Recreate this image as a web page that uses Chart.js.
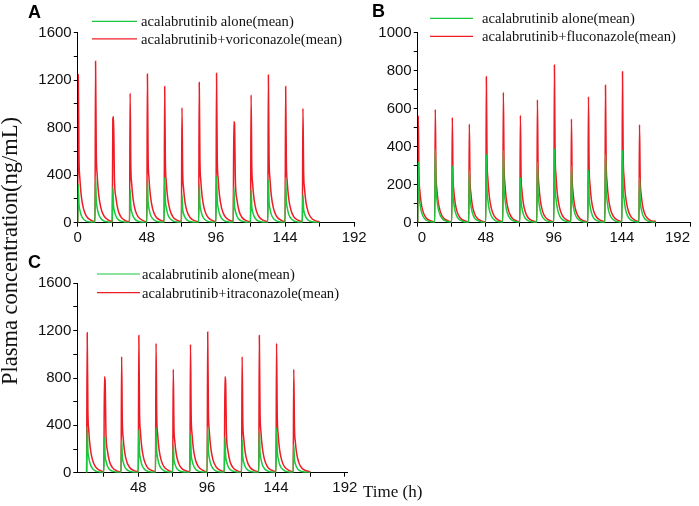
<!DOCTYPE html>
<html>
<head>
<meta charset="utf-8">
<script src="https://cdn.jsdelivr.net/npm/chart.js@4.4.1/dist/chart.umd.min.js"></script>
<style>
  html, body { margin: 0; padding: 0; background: #fff; overflow: hidden; }
  #page { position: relative; width: 699px; height: 506px; }
  canvas { position: absolute; left: 0; top: 0; }
  .panel { position: absolute; font: bold 18px "Liberation Sans", Arial, sans-serif; line-height: 1; color: #000; }
  .title { position: absolute; font-family: "Liberation Serif", "Times New Roman", serif; color: #111; white-space: nowrap; line-height: 1; }
</style>
</head>
<body>
<div id="page">
  <canvas id="chartA" width="699" height="506"></canvas>
  <canvas id="chartB" width="699" height="506"></canvas>
  <canvas id="chartC" width="699" height="506"></canvas>
  <div class="panel" style="left:28px;top:3px;">A</div>
  <div class="panel" style="left:372px;top:2px;">B</div>
  <div class="panel" style="left:28px;top:253px;">C</div>
  <div class="title" style="left:10px;top:251px;font-size:22.5px;transform:translate(-50%,-50%) rotate(-90deg);">Plasma concentration(ng/mL)</div>
  <div class="title" style="left:363px;top:483px;font-size:17px;">Time (h)</div>
</div>
<script>
// dosing every 12 h, values read at these hours after each dose
const sampleOffsets = [0, 0.4, 0.9, 1.5, 2.5, 4, 6, 9];
const doseTimes = [0, 12, 24, 36, 48, 60, 72, 84, 96, 108, 120, 132, 144, 156];
const doseTimesC = [12, 24, 36, 48, 60, 72, 84, 96, 108, 120, 132, 144, 156];
const timeTicks = [0, 24, 48, 72, 96, 120, 144, 168, 192];

// acalabrutinib alone (mean), one row per dose
const aloneMean = [
  [0, 320, 154, 106, 61, 30, 13, 5],
  [3, 386, 185, 127, 73, 37, 16, 6],
  [3, 298, 143, 98, 57, 28, 13, 4],
  [2, 277, 133, 91, 53, 26, 12, 4],
  [2, 360, 173, 119, 68, 34, 15, 5],
  [3, 381, 183, 126, 72, 36, 16, 6],
  [3, 236, 113, 78, 45, 22, 10, 4],
  [2, 320, 154, 106, 61, 30, 13, 5],
  [3, 389, 187, 128, 74, 37, 16, 6],
  [3, 299, 144, 99, 57, 28, 13, 4],
  [2, 277, 133, 91, 53, 26, 12, 4],
  [2, 360, 173, 119, 68, 34, 15, 5],
  [3, 381, 183, 126, 72, 36, 16, 6],
  [3, 236, 113, 78, 45, 22, 10, 4]
];
const aloneMeanC = [
  [0, 389, 187, 128, 74, 37, 16, 6],
  [3, 299, 144, 99, 57, 28, 13, 4],
  [2, 276, 132, 91, 52, 26, 12, 4],
  [2, 360, 173, 119, 68, 34, 15, 5],
  [3, 380, 182, 125, 72, 36, 16, 6],
  [3, 234, 112, 77, 44, 22, 10, 4],
  [2, 318, 153, 105, 60, 30, 13, 5],
  [3, 389, 187, 128, 74, 37, 16, 6],
  [3, 299, 144, 99, 57, 28, 13, 4],
  [2, 276, 132, 91, 52, 26, 12, 4],
  [2, 360, 173, 119, 68, 34, 15, 5],
  [3, 380, 182, 125, 72, 36, 16, 6],
  [3, 234, 112, 77, 44, 22, 10, 4]
];

// + voriconazole (A)
const voriMean = [
  [0, 1245, 548, 374, 224, 118, 56, 22],
  [10, 1360, 598, 408, 245, 129, 61, 24],
  [11, 875, 895, 376, 215, 107, 49, 18],
  [8, 1090, 480, 327, 196, 104, 49, 20],
  [9, 1253, 551, 376, 226, 119, 56, 23],
  [10, 1146, 504, 344, 206, 109, 52, 21],
  [9, 969, 426, 291, 174, 92, 44, 17],
  [8, 1180, 519, 354, 212, 112, 53, 21],
  [9, 1258, 554, 377, 226, 120, 57, 23],
  [10, 851, 838, 352, 201, 101, 46, 17],
  [8, 1076, 473, 323, 194, 102, 48, 19],
  [9, 1244, 547, 373, 224, 118, 56, 22],
  [10, 1146, 504, 344, 206, 109, 52, 21],
  [9, 963, 424, 289, 173, 91, 43, 17]
];

// + fluconazole (B)
const fluMean = [
  [0, 563, 248, 169, 101, 53, 25, 10],
  [5, 596, 262, 179, 107, 57, 27, 11],
  [5, 554, 244, 166, 100, 53, 25, 10],
  [5, 519, 228, 156, 93, 49, 23, 9],
  [4, 768, 338, 230, 138, 73, 35, 14],
  [6, 686, 302, 206, 123, 65, 31, 12],
  [5, 565, 249, 170, 102, 54, 25, 10],
  [5, 647, 285, 194, 116, 61, 29, 12],
  [5, 830, 365, 249, 149, 79, 37, 15],
  [7, 546, 240, 164, 98, 52, 25, 10],
  [5, 663, 292, 199, 119, 63, 30, 12],
  [6, 723, 318, 217, 130, 69, 33, 13],
  [6, 795, 350, 239, 143, 76, 36, 14],
  [6, 516, 227, 155, 93, 49, 23, 9]
];

// + itraconazole (C)
const itraMean = [
  [0, 1183, 521, 355, 213, 112, 53, 21],
  [9, 811, 777, 326, 187, 93, 43, 16],
  [7, 980, 431, 294, 176, 93, 44, 18],
  [8, 1160, 510, 348, 209, 110, 52, 21],
  [9, 1093, 481, 328, 197, 104, 49, 20],
  [8, 873, 384, 262, 157, 83, 39, 16],
  [7, 1084, 477, 325, 195, 103, 49, 20],
  [8, 1189, 523, 357, 214, 113, 54, 21],
  [9, 811, 777, 326, 187, 93, 43, 16],
  [7, 980, 431, 294, 176, 93, 44, 18],
  [8, 1160, 510, 348, 209, 110, 52, 21],
  [9, 1093, 481, 328, 197, 104, 49, 20],
  [8, 873, 384, 262, 157, 83, 39, 16]
];

// value 12 h after the last dose
const tailAlone = 2;
const tailInhib = 7;

const greenColor = "#19c83c";
const redColor = "#ee1c24";
const serif = '"Liberation Serif", "Times New Roman", serif';
const sans = '"Liberation Sans", Arial, sans-serif';

function toPoints(doses, rows, tail) {
  const pts = [];
  doses.forEach((d, i) => {
    sampleOffsets.forEach((o, j) => pts.push({ x: d + o, y: rows[i][j] }));
  });
  pts.push({ x: doses[doses.length - 1] + 12, y: tail });
  return pts;
}

// legend drawn at fixed spot, like the original figure
const figLegend = {
  id: "figLegend",
  afterDraw(chart, args, opts) {
    const ctx = chart.ctx;
    ctx.save();
    ctx.font = "14.6px " + serif;
    ctx.textBaseline = "middle";
    chart.data.datasets.forEach((ds, i) => {
      const y = opts.y[i];
      ctx.strokeStyle = ds.borderColor;
      ctx.lineWidth = 1.2;
      ctx.beginPath();
      ctx.moveTo(opts.x1, y);
      ctx.lineTo(opts.x2, y);
      ctx.stroke();
      ctx.fillStyle = "#111";
      ctx.fillText(ds.label, opts.tx, y + 1);
    });
    ctx.restore();
  }
};

function makeChart(id, cfg) {
  return new Chart(document.getElementById(id), {
    type: "line",
    data: {
      datasets: [
        {
          label: "acalabrutinib alone(mean)",
          data: toPoints(cfg.doses, cfg.alone, tailAlone),
          borderColor: greenColor,
          borderWidth: 1.5,
          pointRadius: 0,
          cubicInterpolationMode: "monotone",
        },
        {
          label: cfg.label,
          data: toPoints(cfg.doses, cfg.inhib, tailInhib),
          borderColor: redColor,
          borderWidth: 1.5,
          pointRadius: 0,
          cubicInterpolationMode: "monotone",
        },
      ],
    },
    options: {
      responsive: false,
      animation: false,
      events: [],
      layout: { padding: cfg.padding },
      plugins: {
        legend: { display: false },
        tooltip: { enabled: false },
        figLegend: cfg.legend,
      },
      scales: {
        x: {
          type: "linear",
          min: cfg.xMin,
          max: cfg.xMax,
          afterBuildTicks: (s) => { s.ticks = timeTicks.filter((v) => v >= cfg.xMin).map((v) => ({ value: v })); },
          afterFit: (s) => { s.height = 22; },
          ticks: {
            autoSkip: false,
            maxRotation: 0,
            padding: 2,
            align: cfg.xAlign,
            color: "#111",
            font: { family: sans, size: 15 },
            callback: (v) => (v % 48 === 0 ? v : ""),
          },
          grid: { drawOnChartArea: false, drawTicks: true, tickLength: 4, tickColor: "#000" },
          border: { display: true, color: "#000", width: 1 },
        },
        y: {
          min: 0,
          max: cfg.yMax,
          afterFit: (s) => { s.width = 50; },
          ticks: {
            stepSize: cfg.yStep,
            autoSkip: false,
            padding: 2,
            color: "#111",
            font: { family: sans, size: 15 },
            callback: (v) => (v % (cfg.yStep * 2) === 0 ? v : ""),
          },
          grid: { drawOnChartArea: false, drawTicks: true, tickLength: 4, tickColor: "#000" },
          border: { display: true, color: "#000", width: 1 },
        },
      },
    },
    plugins: [figLegend],
  });
}

makeChart("chartA", {
  doses: doseTimes, alone: aloneMean, inhib: voriMean,
  label: "acalabrutinib+voriconazole(mean)",
  xMin: 0, xMax: 192, xAlign: "center", yMax: 1600, yStep: 200,
  padding: { left: 27.7, top: 32.7, right: 344.8, bottom: 261.3 },
  legend: { x1: 92, x2: 137, tx: 141, y: [21.3, 38.8] },
});

makeChart("chartB", {
  doses: doseTimes, alone: aloneMean, inhib: fluMean,
  label: "acalabrutinib+fluconazole(mean)",
  xMin: 0, xMax: 192, xAlign: "inner", yMax: 1000, yStep: 100,
  padding: { left: 367.7, top: 32.7, right: 9, bottom: 261.3 },
  legend: { x1: 430, x2: 473, tx: 482, y: [18.3, 36.3] },
});

makeChart("chartC", {
  doses: doseTimesC, alone: aloneMeanC, inhib: itraMean,
  label: "acalabrutinib+itraconazole(mean)",
  xMin: 5.5, xMax: 194, xAlign: "center", yMax: 1600, yStep: 200,
  padding: { left: 27.3, top: 283.3, right: 351.3, bottom: 11.3 },
  legend: { x1: 97, x2: 140, tx: 142, y: [274, 292.7] },
});
</script>
</body>
</html>
